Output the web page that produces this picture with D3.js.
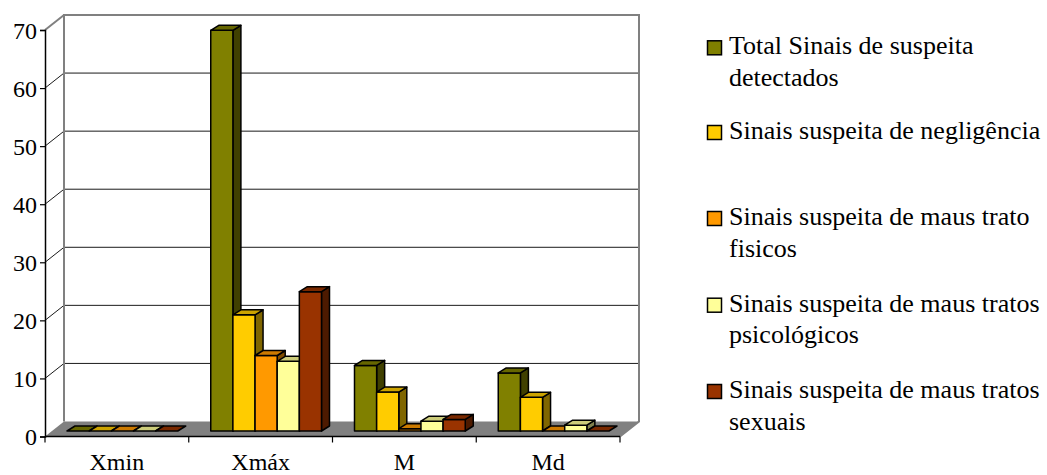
<!DOCTYPE html>
<html>
<head>
<meta charset="utf-8">
<script src="https://cdn.jsdelivr.net/npm/d3@7/dist/d3.min.js"></script>
<style>
  html, body { margin: 0; padding: 0; background: #fff; }
  svg { display: block; }
  svg text { font-family: "Liberation Serif", "Tinos", "Times New Roman", "DejaVu Serif", serif; }
</style>
</head>
<body>
<svg id="chart" width="1047" height="475"></svg>
<script>
// Categories along the x axis
const categories = ["Xmin", "Xmáx", "M", "Md"];

// Series names (legend), one value per category
const seriesNames = [
  "Total Sinais de suspeita detectados",
  "Sinais suspeita de negligência",
  "Sinais suspeita de maus trato fisicos",
  "Sinais suspeita de maus tratos psicológicos",
  "Sinais suspeita de maus tratos sexuais"
];
const totalSinais   = [0, 69, 11.3, 10];
const negligencia   = [0, 20, 6.7, 5.8];
const fisicos       = [0, 13, 0.4, 0];
const psicologicos  = [0, 12, 1.7, 1];
const sexuais       = [0, 24, 2, 0];

// Legend text broken into lines
const legendLines = [
  ["Total Sinais de suspeita", "detectados"],
  ["Sinais suspeita de negligência"],
  ["Sinais suspeita de maus trato", "fisicos"],
  ["Sinais suspeita de maus tratos", "psicológicos"],
  ["Sinais suspeita de maus tratos", "sexuais"]
];

// Y axis ticks
const yTicks = [0, 10, 20, 30, 40, 50, 60, 70];

const seriesValues = [totalSinais, negligencia, fisicos, psicologicos, sexuais];

// Face colours: front, top, side
const frontColors = ["#808000", "#FFCC00", "#FF9900", "#FFFF99", "#993300"];
const topColors   = ["#666600", "#CCA300", "#CC7A00", "#CCCC7A", "#7A2900"];
const sideColors  = ["#404000", "#806600", "#804D00", "#80804D", "#4D1A00"];

const serif = '"Liberation Serif", "Tinos", "Times New Roman", "DejaVu Serif", serif';
const svg = d3.select("#chart");

// Plot geometry
const left = 45, right = 620;
const y = d3.scaleLinear().domain([0, 70]).range([436.5, 30]);
const depth = { dx: 19, dy: -15 };        // wall depth offset
const barShift = { dx: 5.5, dy: -5.5 };   // bar plane inside the box
const barDepth = { dx: 8, dy: -5 };       // bar thickness

const x0 = d3.scaleBand().domain(categories).range([left, right]).padding(0);
const bw = x0.bandwidth();
const gap = 16.5;
const x1 = d3.scaleBand().domain(seriesNames).range([gap, bw - gap]).padding(0);

const wallGray = "#808080";
const pt = p => p.map(d => d.join(",")).join(" ");

// Floor
svg.append("polygon")
  .attr("points", pt([
    [left, y(0)], [right, y(0)],
    [right + depth.dx, y(0) + depth.dy], [left + depth.dx, y(0) + depth.dy]
  ]))
  .attr("fill", wallGray);

// Gridlines: back wall and left side wall
const grid = svg.append("g");
yTicks.filter(v => v > 0 && v < 70).forEach(v => {
  grid.append("line")
    .attr("x1", left + depth.dx).attr("x2", right + depth.dx)
    .attr("y1", y(v) + depth.dy).attr("y2", y(v) + depth.dy)
    .attr("stroke", "#1a1a1a").attr("stroke-width", 1);
  grid.append("line")
    .attr("x1", left).attr("y1", y(v))
    .attr("x2", left + depth.dx).attr("y2", y(v) + depth.dy)
    .attr("stroke", "#1a1a1a").attr("stroke-width", 1);
});

// Wall borders
const walls = svg.append("g").attr("fill", "none").attr("stroke", wallGray).attr("stroke-width", 2);
walls.append("polyline").attr("points", pt([
  [left + depth.dx, y(0) + depth.dy],
  [left + depth.dx, y(70) + depth.dy],
  [right + depth.dx, y(70) + depth.dy],
  [right + depth.dx, y(0) + depth.dy],
  [right, y(0)]
]));
walls.append("line")
  .attr("x1", left).attr("y1", y(70))
  .attr("x2", left + depth.dx).attr("y2", y(70) + depth.dy);

// Bars
const bars = svg.append("g").attr("stroke", "#000").attr("stroke-width", 1.5).attr("stroke-linejoin", "round");
categories.forEach((cat, ci) => {
  seriesNames.forEach((name, si) => {
    const v = seriesValues[si][ci];
    const xa = x0(cat) + x1(name) + barShift.dx;
    const xb = xa + x1.bandwidth();
    const yt = y(v) + barShift.dy;
    const yb = y(0) + barShift.dy;
    const g = bars.append("g");
    if (v > 0) {
      g.append("polygon").attr("fill", sideColors[si]).attr("points", pt([
        [xb, yt], [xb + barDepth.dx, yt + barDepth.dy],
        [xb + barDepth.dx, yb + barDepth.dy], [xb, yb]
      ]));
      g.append("rect").attr("fill", frontColors[si])
        .attr("x", xa).attr("y", yt).attr("width", xb - xa).attr("height", yb - yt);
    }
    g.append("polygon").attr("fill", topColors[si]).attr("points", pt([
      [xa, yt], [xa + barDepth.dx, yt + barDepth.dy],
      [xb + barDepth.dx, yt + barDepth.dy], [xb, yt]
    ]));
  });
});

// Y axis
const yAxis = svg.append("g").attr("transform", `translate(${left},0)`)
  .call(d3.axisLeft(y).tickValues(yTicks).tickSize(5).tickPadding(3).tickFormat(d3.format("d")));
yAxis.attr("font-family", serif);
yAxis.select(".domain").attr("stroke", "#000").attr("stroke-width", 1.5);
yAxis.selectAll(".tick line").attr("stroke", "#000").attr("stroke-width", 1.2);
yAxis.selectAll(".tick text")
  .style("font-family", serif)
  .attr("font-size", 24).attr("fill", "#000").attr("dy", "0.34em");

// X axis
const xEdges = d3.range(categories.length + 1).map(i => left + i * bw);
const xAxis = svg.append("g");
xAxis.append("line")
  .attr("x1", left).attr("x2", right).attr("y1", y(0)).attr("y2", y(0))
  .attr("stroke", "#000").attr("stroke-width", 1.5);
xEdges.forEach(xe => {
  xAxis.append("line")
    .attr("x1", xe).attr("x2", xe).attr("y1", y(0)).attr("y2", y(0) + 6)
    .attr("stroke", "#000").attr("stroke-width", 1.2);
});
categories.forEach(cat => {
  xAxis.append("text")
    .attr("x", x0(cat) + bw / 2).attr("y", 470)
    .attr("text-anchor", "middle").attr("font-size", 24).attr("fill", "#000")
    .style("font-family", serif)
    .text(cat);
});

// Legend
const legendBaselines = [[54.3, 85.7], [139], [225, 257], [311.7, 343], [398, 429.5]];
const legend = svg.append("g");
legendLines.forEach((lines, i) => {
  const b = legendBaselines[i];
  legend.append("rect")
    .attr("x", 707.5).attr("y", b[0] - 13.5).attr("width", 14).attr("height", 14)
    .attr("fill", frontColors[i]).attr("stroke", "#000").attr("stroke-width", 1.5);
  lines.forEach((ln, j) => {
    legend.append("text")
      .attr("x", 729).attr("y", b[j])
      .attr("font-size", 26).attr("fill", "#000")
      .style("font-family", serif)
      .text(ln);
  });
});
</script>
</body>
</html>
